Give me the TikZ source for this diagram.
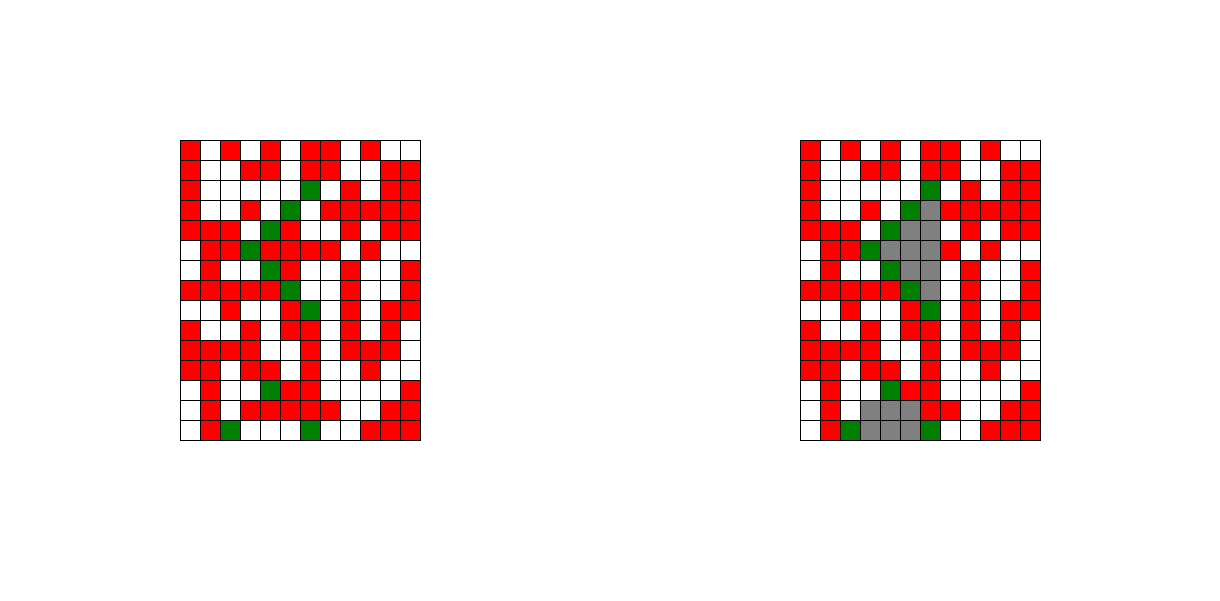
\documentclass[tikz,border=0pt]{standalone}
\usepackage{tikz}
\definecolor{cellR}{RGB}{255,0,0}
\definecolor{cellW}{RGB}{255,255,255}
\definecolor{cellG}{RGB}{0,128,0}
\definecolor{cellX}{RGB}{128,128,128}

% ---- cell data : R red, W white, G green, X gray ----
\newcommand\mazestart{%
  {R,W,R,W,R,W,R,R,W,R,W,W},
  {R,W,W,R,R,W,R,R,W,W,R,R},
  {R,W,W,W,W,W,G,W,R,W,R,R},
  {R,W,W,R,W,G,W,R,R,R,R,R},
  {R,R,R,W,G,R,W,W,R,W,R,R},
  {W,R,R,G,R,R,R,R,W,R,W,W},
  {W,R,W,W,G,R,W,W,R,W,W,R},
  {R,R,R,R,R,G,W,W,R,W,W,R},
  {W,W,R,W,W,R,G,W,R,W,R,R},
  {R,W,W,R,W,R,R,W,R,W,R,W},
  {R,R,R,R,W,W,R,W,R,R,R,W},
  {R,R,W,R,R,W,R,W,W,R,W,W},
  {W,R,W,W,G,R,R,W,W,W,W,R},
  {W,R,W,R,R,R,R,R,W,W,R,R},
  {W,R,G,W,W,W,G,W,W,R,R,R}}
\newcommand\mazesolved{%
  {R,W,R,W,R,W,R,R,W,R,W,W},
  {R,W,W,R,R,W,R,R,W,W,R,R},
  {R,W,W,W,W,W,G,W,R,W,R,R},
  {R,W,W,R,W,G,X,R,R,R,R,R},
  {R,R,R,W,G,X,X,W,R,W,R,R},
  {W,R,R,G,X,X,X,R,W,R,W,W},
  {W,R,W,W,G,X,X,W,R,W,W,R},
  {R,R,R,R,R,G,X,W,R,W,W,R},
  {W,W,R,W,W,R,G,W,R,W,R,R},
  {R,W,W,R,W,R,R,W,R,W,R,W},
  {R,R,R,R,W,W,R,W,R,R,R,W},
  {R,R,W,R,R,W,R,W,W,R,W,W},
  {W,R,W,W,G,R,R,W,W,W,W,R},
  {W,R,W,X,X,X,R,R,W,W,R,R},
  {W,R,G,X,X,X,G,W,W,R,R,R}}

\begin{document}
\begin{tikzpicture}[
  x=0.5cm, y=0.5cm,
  cellbox/.style={draw=black, line width=0.6pt},
]
\useasboundingbox (0,0) rectangle (61,-30);

% ---- Left grid : start state ----
\begin{scope}[shift={(9,-7)}]
  \foreach \row [count=\r from 0] in \mazestart {
    \foreach \c [count=\k from 0] in \row {
      \draw[cellbox, fill=cell\c] (\k,-\r) rectangle ++(1,-1);
    }
  }
\end{scope}

% ---- Right grid : path found ----
\begin{scope}[shift={(40,-7)}]
  \foreach \row [count=\r from 0] in \mazesolved {
    \foreach \c [count=\k from 0] in \row {
      \draw[cellbox, fill=cell\c] (\k,-\r) rectangle ++(1,-1);
    }
  }
\end{scope}
\end{tikzpicture}
\end{document}
